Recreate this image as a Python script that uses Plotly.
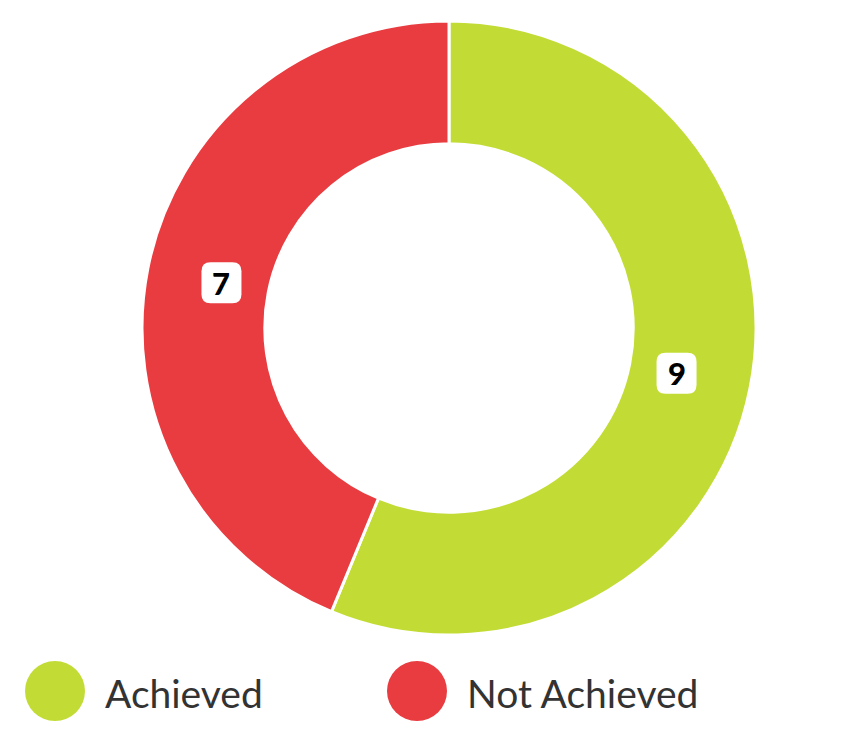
import math

import plotly.graph_objects as go

# data
categories = ["Achieved", "Not Achieved"]
counts = [9, 7]
colors = ["#C3DC35", "#E83C40"]

W, H = 856, 750
CX, CY, R_OUT = 449, 328, 307  # donut centre / radius in px
HOLE = 0.6
LABEL_R = 232  # px from centre for the value badges
FONT = "Lato"


def px_x(x):
    return x / W


def px_y(y):
    return 1 - y / H


def rounded_rect(cx, cy, w, h, r):
    """SVG path (paper coords) for a rounded box centred at pixel cx, cy."""
    x0, x1, y0, y1 = cx - w / 2, cx + w / 2, cy - h / 2, cy + h / 2
    pts = [
        ("M", x0 + r, y0), ("L", x1 - r, y0), ("Q", x1, y0, x1, y0 + r),
        ("L", x1, y1 - r), ("Q", x1, y1, x1 - r, y1), ("L", x0 + r, y1),
        ("Q", x0, y1, x0, y1 - r), ("L", x0, y0 + r), ("Q", x0, y0, x0 + r, y0),
    ]
    parts = []
    for p in pts:
        cmd, coords = p[0], p[1:]
        xy = []
        for i in range(0, len(coords), 2):
            xy.append(f"{px_x(coords[i]):.5f},{px_y(coords[i + 1]):.5f}")
        parts.append(cmd + " " + " ".join(xy))
    return " ".join(parts) + " Z"


fig = go.Figure(
    go.Pie(
        labels=categories,
        values=counts,
        marker=dict(colors=colors, line=dict(color="white", width=3)),
        hole=HOLE,
        sort=False,
        direction="clockwise",
        rotation=0,
        textinfo="none",
        hoverinfo="label+value",
        domain=dict(
            x=[px_x(CX - R_OUT), px_x(CX + R_OUT)],
            y=[px_y(CY + R_OUT), px_y(CY - R_OUT)],
        ),
    )
)

shapes = []
annotations = []

# value badges at the middle of each slice
total = sum(counts)
cum = 0
for val in counts:
    theta = 2 * math.pi * (cum + val / 2) / total
    cum += val
    bx = CX + LABEL_R * math.sin(theta)
    by = CY - LABEL_R * math.cos(theta)
    shapes.append(dict(
        type="path", xref="paper", yref="paper",
        path=rounded_rect(bx, by, 40, 41, 9),
        fillcolor="white", line=dict(width=0), layer="above",
    ))
    annotations.append(dict(
        x=px_x(bx), y=px_y(by), xref="paper", yref="paper",
        text=str(val), showarrow=False, xanchor="center", yanchor="middle",
        font=dict(family=FONT, size=31, color="black", weight=900),
    ))

# custom legend with large circles
legend_x = [55, 417]
legend_y = 691
for name, col, lx in zip(categories, colors, legend_x):
    shapes.append(dict(
        type="circle", xref="paper", yref="paper",
        x0=px_x(lx - 30), x1=px_x(lx + 30),
        y0=px_y(legend_y + 30), y1=px_y(legend_y - 30),
        fillcolor=col, line=dict(width=0),
    ))
    annotations.append(dict(
        x=px_x(lx + 48), y=px_y(legend_y + 2), xref="paper", yref="paper",
        text=name, showarrow=False, xanchor="left", yanchor="middle",
        font=dict(family=FONT, size=39, color="#333333"),
    ))

fig.update_layout(
    width=W,
    height=H,
    margin=dict(l=0, r=0, t=0, b=0),
    showlegend=False,
    paper_bgcolor="white",
    plot_bgcolor="white",
    shapes=shapes,
    annotations=annotations,
)

fig.write_html(
    "out.html",
    config={"displayModeBar": False},
    post_script="document.body.style.margin = '0';",
)
